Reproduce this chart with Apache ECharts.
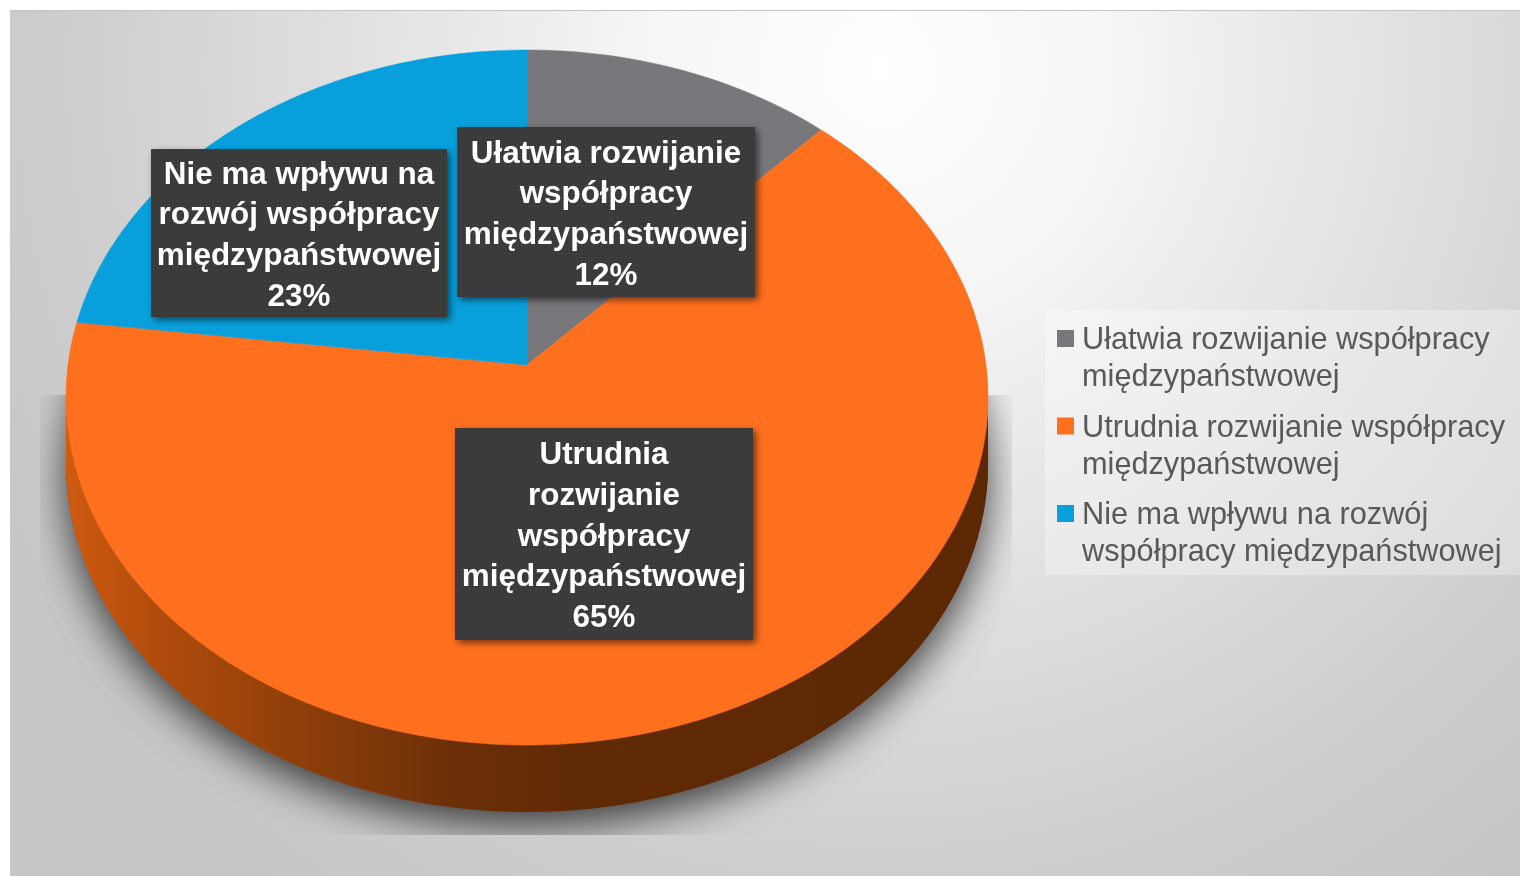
<!DOCTYPE html>
<html>
<head>
<meta charset="utf-8">
<title>Wpływ na współpracę międzypaństwową</title>
<style>
html,body{margin:0;padding:0;background:#fff;}
#chart{width:1520px;height:876px;}
</style>
<script src="https://cdn.jsdelivr.net/npm/echarts@6/dist/echarts.min.js"></script>
</head>
<body>
<div id="chart"></div>
<script>
// dane z wykresu
var categories = [
	'Ułatwia rozwijanie współpracy międzypaństwowej',
	'Utrudnia rozwijanie współpracy międzypaństwowej',
	'Nie ma wpływu na rozwój współpracy międzypaństwowej'
];
var values = [12, 65, 23];
var legendLines = [
	'Ułatwia rozwijanie współpracy\nmiędzypaństwowej',
	'Utrudnia rozwijanie współpracy\nmiędzypaństwowej',
	'Nie ma wpływu na rozwój\nwspółpracy międzypaństwowej'
];
var labelLines = [
	'Ułatwia rozwijanie\nwspółpracy\nmiędzypaństwowej',
	'Utrudnia\nrozwijanie\nwspółpracy\nmiędzypaństwowej',
	'Nie ma wpływu na\nrozwój współpracy\nmiędzypaństwowej'
];
var colors = ['#77787c', '#ff701e', '#08a0dc'];

// ramki etykiet i geometria "3D" (ECharts nie ma elipsy w pie)
var labelBoxes = [
	{x:457, y:127, width:298, height:170},
	{x:455, y:428, width:298, height:212},
	{x:151, y:149, width:296, height:168}
];
var apexX = 527, apexY = 365, scaleX = 459, scaleY = 344.5, persp = 0.0936, depth = 67;

var total = values.reduce(function(a,b){return a+b;},0);

// kat od gory zgodnie z zegarem -> punkt na obwodzie po perspektywie
function rim(deg, dy){
	var r = deg*Math.PI/180, u = Math.sin(r), v = -Math.cos(r), w = 1-persp*v;
	return [apexX+scaleX*u/w, apexY+scaleY*v/w+(dy||0)];
}
function arcPoints(from, to, dy){
	var pts = [], n = Math.max(2,Math.ceil(Math.abs(to-from)));
	for(var i=0;i<=n;i++){
		pts.push(rim(from+(to-from)*i/n, dy));
	}
	return pts;
}
function startDeg(idx){
	var s = 0;
	for(var i=0;i<idx;i++){s+=values[i];}
	return s/total*360;
}

// kropkowana faktura etykiet
var dots = document.createElement('canvas');
dots.width = 4; dots.height = 4;
var dc = dots.getContext('2d');
dc.fillStyle = '#3a3a3a';
dc.fillRect(0,0,4,4);
dc.fillStyle = '#4c4c4c';
dc.fillRect(1,1,1,1);

function sliceSeries(idx){
	return {
		name: categories[idx],
		type: 'custom',
		coordinateSystem: 'none',
		z: 3,
		itemStyle: {color: colors[idx]},
		data: [values[idx]],
		silent: true,
		renderItem: function(params, api){
			var from = startDeg(idx);
			var to = from+api.value(0)/total*360;
			var children = [];
			// bok tylko od frontu
			var a = Math.max(from,95.4), b = Math.min(to,264.6);
			if(b>a){
				children.push({
					type: 'polygon',
					shape: {points: arcPoints(a,b,0).concat(arcPoints(b,a,depth))},
					style: {fill: {
						type:'linear', x:66, y:0, x2:988, y2:0, global:true,
						colorStops:[
							{offset:0,color:'#cf5a10'},
							{offset:0.1,color:'#b04c0c'},
							{offset:0.25,color:'#8f3f0a'},
							{offset:0.42,color:'#6c2f07'},
							{offset:0.55,color:'#602a05'},
							{offset:1,color:'#5c2804'}
						]
					}}
				});
			}
			children.push({
				type: 'polygon',
				shape: {points: [[apexX,apexY]].concat(arcPoints(from,to,0))},
				style: {fill: api.visual('color'), stroke: api.visual('color'), lineWidth: 0.5}
			});
			return {type:'group', children:children};
		}
	};
}

var shadowSeries = {
	type: 'custom',
	coordinateSystem: 'none',
	z: 1,
	silent: true,
	data: [0],
	renderItem: function(){
		return {
			type: 'polygon',
			shape: {points: arcPoints(0,360,depth-2)},
			style: {fill:'#5c2804', shadowBlur:42, shadowOffsetY:16, shadowColor:'rgba(0,0,0,0.72)'},
			clipPath: {type:'rect', shape:{x:40,y:395,width:972,height:440}}
		};
	}
};

var labelSeries = {
	type: 'custom',
	coordinateSystem: 'none',
	z: 5,
	silent: true,
	data: values,
	renderItem: function(params, api){
		var box = labelBoxes[params.dataIndex];
		return {
			type: 'group',
			children: [{
				type: 'rect',
				shape: box,
				style: {fill:{image:dots, repeat:'repeat'}, shadowBlur:7, shadowOffsetX:3, shadowOffsetY:3, shadowColor:'rgba(0,0,0,0.55)'}
			},{
				type: 'text',
				style: {
					text: labelLines[params.dataIndex]+'\n'+api.value(0)+'%',
					x: box.x+box.width/2,
					y: box.y+box.height/2+3,
					align: 'center',
					verticalAlign: 'middle',
					fill: '#fff',
					font: 'bold 31.4px "Liberation Sans"',
					lineHeight: 40.6
				}
			}]
		};
	}
};

var myChart = echarts.init(document.getElementById('chart'));
myChart.setOption({
	animation: false,
	backgroundColor: '#fff',
	graphic: [{
		type: 'rect',
		z: 0,
		shape: {x:10, y:10, width:1510, height:866},
		style: {
			stroke: null,
			fill: {
				type:'radial', x:880, y:70, r:1020, global:true,
				colorStops:[
					{offset:0,color:'#ffffff'},
					{offset:0.22,color:'#f6f6f6'},
					{offset:0.5,color:'#e2e2e2'},
					{offset:0.8,color:'#cdcdcd'},
					{offset:1,color:'#c6c6c6'}
				]
			}
		}
	},{
		type: 'rect',
		z: 0,
		shape: {x:10, y:10, width:1510, height:1},
		style: {fill:'#c4c4c4'}
	},{
		type: 'rect',
		z: 0,
		shape: {x:1045, y:310, width:475, height:265},
		style: {fill:'rgba(255,255,255,0.3)'}
	}],
	legend: {
		orient: 'vertical',
		left: 1057,
		top: 322.5,
		padding: 0,
		itemGap: 13.5,
		itemWidth: 20,
		itemHeight: 74,
		// kwadrat przy pierwszej linii tekstu
		icon: 'path://M20,0L20,0 M0,7.5H17V24.5H0Z M20,74L20,74',
		data: categories,
		selectedMode: false,
		formatter: function(name){
			return legendLines[categories.indexOf(name)];
		},
		textStyle: {
			color: '#595959',
			fontFamily: '"Liberation Sans"',
			fontSize: 30.7,
			lineHeight: 37
		}
	},
	series: [shadowSeries, sliceSeries(0), sliceSeries(1), sliceSeries(2), labelSeries]
});
</script>
</body>
</html>
